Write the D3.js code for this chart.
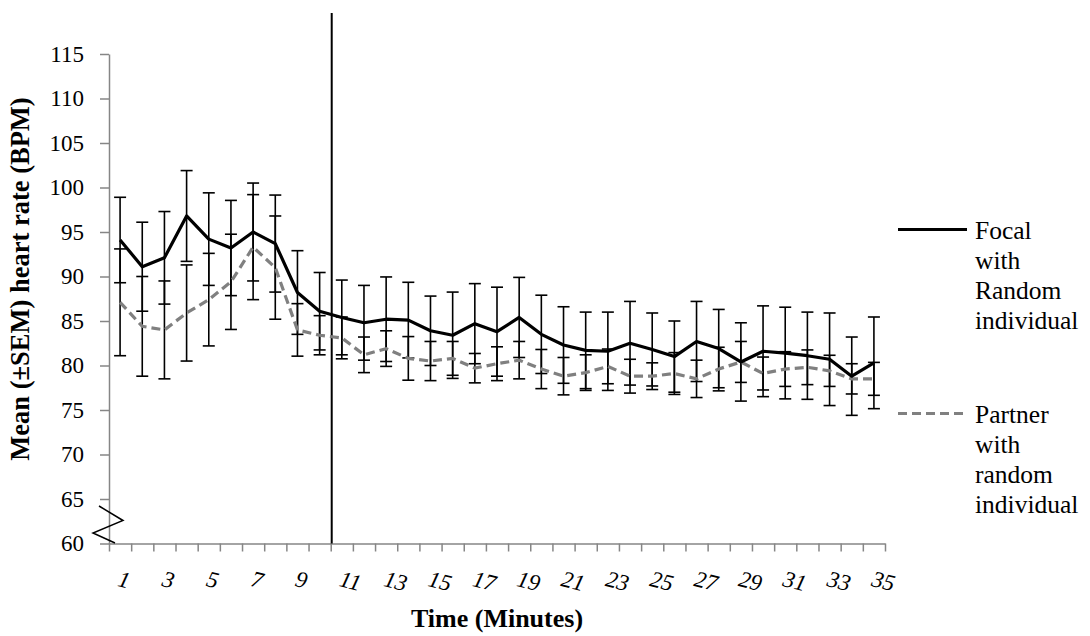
<!DOCTYPE html>
<html>
<head>
<meta charset="utf-8">
<script src="https://cdn.jsdelivr.net/npm/d3@7"></script>
<style>
  html, body { margin: 0; padding: 0; background: #ffffff; }
  svg { display: block; }
  text { font-family: "Liberation Serif", "Times New Roman", serif; fill: #000; }
</style>
</head>
<body>
<svg id="chart" width="1090" height="636"></svg>
<script>
// ---------------- data ----------------
const minutes = [1,2,3,4,5,6,7,8,9,10,11,12,13,14,15,16,17,18,19,20,21,22,23,24,25,26,27,28,29,30,31,32,33,34,35];

const focalMean = [94.1, 91.1, 92.1, 96.8, 94.2, 93.2, 95.0, 93.7, 88.2, 86.1,
                   85.4, 84.8, 85.2, 85.1, 83.9, 83.4, 84.7, 83.8, 85.4, 83.5,
                   82.3, 81.7, 81.6, 82.5, 81.8, 81.0, 82.7, 81.9, 80.4, 81.6,
                   81.4, 81.1, 80.7, 78.8, 80.3];
const focalSEM  = [4.8, 5.0, 5.2, 5.1, 5.2, 5.35, 5.5, 5.45, 4.7, 4.35,
                   4.2, 4.2, 4.75, 4.25, 3.9, 4.85, 4.5, 5.0, 4.5, 4.4,
                   4.3, 4.3, 4.4, 4.7, 4.1, 4.0, 4.5, 4.4, 4.4, 5.1,
                   5.15, 4.9, 5.2, 4.4, 5.15];

const partnerMean = [87.1, 84.4, 84.0, 85.9, 87.4, 89.4, 93.3, 91.0, 84.0, 83.4,
                     83.1, 81.2, 81.9, 80.8, 80.5, 80.8, 79.7, 80.2, 80.6, 79.6,
                     78.8, 79.2, 79.9, 78.8, 78.8, 79.1, 78.5, 79.6, 80.4, 79.1,
                     79.6, 79.8, 79.4, 78.5, 78.5];
const partnerSEM  = [6.0, 5.6, 5.5, 5.4, 5.2, 5.35, 5.9, 5.8, 2.95, 2.2,
                     2.35, 2.0, 2.0, 2.45, 2.2, 1.9, 1.65, 1.9, 2.1, 2.2,
                     2.1, 2.0, 1.95, 1.9, 1.5, 2.35, 2.1, 2.45, 2.3, 1.85,
                     1.95, 1.95, 1.75, 1.7, 1.85];

const yTicks = [60, 65, 70, 75, 80, 85, 90, 95, 100, 105, 110, 115];
const xTickLabels = ["1","3","5","7","9","11","13","15","17","19","21","23","25","27","29","31","33","35"];
const breakAfterMinute = 10;

const legendFocal = ["Focal", "with", "Random", "individual"];
const legendPartner = ["Partner", "with", "random", "individual"];

// ---------------- layout ----------------
const FONT = '"Liberation Serif", "Times New Roman", serif';
const svg = d3.select("#chart");
const plotLeft = 109, plotRight = 885, plotTop = 54, plotBottom = 543.5;
const axisColor = "#868686";

const x = d3.scaleBand().domain(minutes).range([plotLeft, plotRight]).padding(0);
const xEdge = d3.scaleLinear().domain([0, minutes.length]).range([plotLeft, plotRight]);
const y = d3.scaleLinear().domain([60, 115]).range([plotBottom, plotTop]);

// Y axis
const yAxis = d3.axisLeft(y).tickValues(yTicks).tickSize(9).tickSizeOuter(0).tickPadding(16);
const gy = svg.append("g").attr("transform", `translate(${plotLeft},0)`).call(yAxis)
  .attr("font-family", FONT);
gy.select(".domain").attr("stroke", axisColor).attr("stroke-width", 1.5);
gy.selectAll(".tick line").attr("stroke", axisColor).attr("stroke-width", 1.5);
gy.selectAll(".tick text")
  .style("font-family", FONT)
  .style("font-size", "23px")
  .attr("fill", "#000");

// X axis (ticks at category boundaries)
const xAxis = d3.axisBottom(xEdge).tickValues(d3.range(minutes.length + 1)).tickSize(8).tickSizeOuter(0).tickFormat("");
const gx = svg.append("g").attr("transform", `translate(0,${plotBottom})`).call(xAxis);
gx.select(".domain").attr("stroke", axisColor).attr("stroke-width", 1.5);
gx.selectAll(".tick line").attr("stroke", axisColor).attr("stroke-width", 1.5);

// X tick labels (odd minutes), italic and slanted
svg.append("g").selectAll("text")
  .data(xTickLabels)
  .join("text")
  .attr("x", d => x(+d) + x.bandwidth() / 2 - 2)
  .attr("y", 586)
  .attr("transform", d => `rotate(14, ${x(+d) + x.bandwidth() / 2 - 2}, 580)`)
  .style("font-family", FONT)
  .style("font-size", "23px")
  .style("font-style", "italic")
  .attr("text-anchor", "start")
  .text(d => d);

// axis break zigzag
svg.append("polyline")
  .attr("points", [[99, 506], [123, 520.5], [93, 533], [115, 543]].map(p => p.join(",")).join(" "))
  .attr("fill", "none").attr("stroke", "#000").attr("stroke-width", 1.5);

// vertical separator after minute 10
svg.append("line")
  .attr("x1", xEdge(breakAfterMinute) + 1).attr("x2", xEdge(breakAfterMinute) + 1)
  .attr("y1", 13).attr("y2", plotBottom)
  .attr("stroke", "#000").attr("stroke-width", 2);

// Error bars
const cx = m => x(m) + x.bandwidth() / 2;
const cap = 6;
function errorBars(means, sems) {
  const g = svg.append("g").attr("stroke", "#000").attr("stroke-width", 1.6);
  const data = minutes.map((m, i) => ({ m, lo: means[i] - sems[i], hi: means[i] + sems[i] }));
  g.selectAll("line.stem").data(data).join("line").attr("class", "stem")
    .attr("x1", d => cx(d.m)).attr("x2", d => cx(d.m))
    .attr("y1", d => y(d.hi)).attr("y2", d => y(d.lo));
  g.selectAll("line.capHi").data(data).join("line").attr("class", "capHi")
    .attr("x1", d => cx(d.m) - cap).attr("x2", d => cx(d.m) + cap)
    .attr("y1", d => y(d.hi)).attr("y2", d => y(d.hi));
  g.selectAll("line.capLo").data(data).join("line").attr("class", "capLo")
    .attr("x1", d => cx(d.m) - cap).attr("x2", d => cx(d.m) + cap)
    .attr("y1", d => y(d.lo)).attr("y2", d => y(d.lo));
}
errorBars(focalMean, focalSEM);
errorBars(partnerMean, partnerSEM);

// Lines
const line = d3.line().x(d => cx(d.m)).y(d => y(d.v));
svg.append("path")
  .datum(minutes.map((m, i) => ({ m, v: partnerMean[i] })))
  .attr("d", line)
  .attr("fill", "none").attr("stroke", "#808080").attr("stroke-width", 3.2)
  .attr("stroke-dasharray", "9,5");
svg.append("path")
  .datum(minutes.map((m, i) => ({ m, v: focalMean[i] })))
  .attr("d", line)
  .attr("fill", "none").attr("stroke", "#000").attr("stroke-width", 3.2)
  .attr("stroke-linejoin", "round");

// Axis titles
svg.append("text")
  .attr("x", 497).attr("y", 627)
  .attr("text-anchor", "middle")
  .style("font-family", FONT)
  .style("font-size", "26px").style("font-weight", "bold")
  .text("Time (Minutes)");

svg.append("text")
  .attr("transform", "translate(29,279) rotate(-90)")
  .attr("text-anchor", "middle")
  .style("font-family", FONT)
  .style("font-size", "26.5px").style("font-weight", "bold")
  .text("Mean (±SEM) heart rate (BPM)");

// Legend
function legendItem(yLine, lines, stroke, dash) {
  svg.append("line")
    .attr("x1", 898).attr("x2", 967).attr("y1", yLine).attr("y2", yLine)
    .attr("stroke", stroke).attr("stroke-width", 3.2)
    .attr("stroke-dasharray", dash);
  const t = svg.append("text").attr("x", 975).attr("y", yLine + 9)
    .style("font-family", FONT).style("font-size", "25.5px");
  t.selectAll("tspan").data(lines).join("tspan")
    .attr("x", 975).attr("dy", (d, i) => i === 0 ? 0 : 30.3)
    .text(d => d);
}
legendItem(229.5, legendFocal, "#000", null);
legendItem(413.5, legendPartner, "#808080", "9,5");
</script>
</body>
</html>
